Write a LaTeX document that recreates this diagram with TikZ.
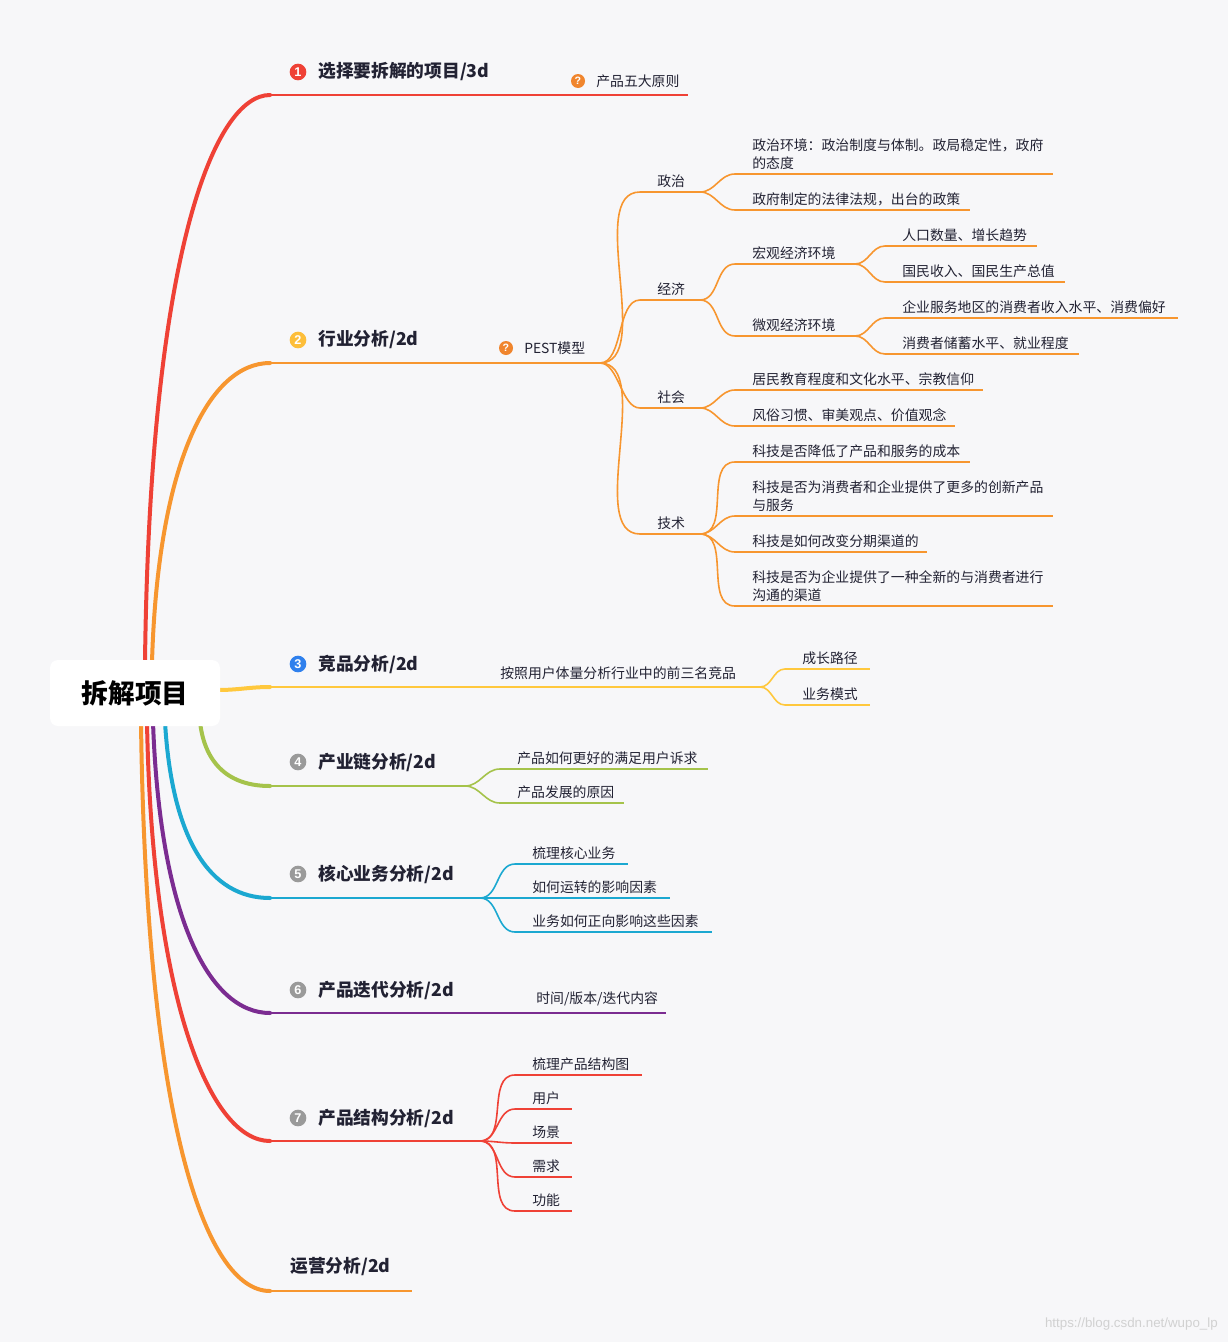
\documentclass[tikz,border=0pt]{standalone}
\usepackage{fontspec}
\setmainfont{Noto Sans CJK SC}
\newfontfamily\lat{Liberation Sans}
\definecolor{bg}{HTML}{F7F7F9}
\definecolor{cR}{HTML}{EF4136}
\definecolor{cO}{HTML}{F7962F}
\definecolor{cY}{HTML}{FFC83D}
\definecolor{cG}{HTML}{A5C34B}
\definecolor{cC}{HTML}{1BA8D1}
\definecolor{cP}{HTML}{7B2C91}
\definecolor{cB}{HTML}{2F80ED}
\definecolor{cQ}{HTML}{F0852D}
\definecolor{cI}{HTML}{9A9A9A}
\definecolor{tx}{HTML}{222233}
\tikzset{
 leaf/.style={anchor=south west,inner sep=0pt,font=\fontsize{10.4}{13.5}\selectfont,text=tx,align=left},
 blab/.style={anchor=west,inner sep=0pt,font=\fontsize{13.3}{16}\selectfont\bfseries,text=tx},
 ic/.style={circle,fill=#1,text=white,inner sep=0pt,minimum size=12.5pt,font=\fontsize{9.5}{9.5}\selectfont\bfseries\lat},
 main/.style={line width=3pt,line cap=round},
 sub/.style={line width=1.2pt},
}
\newcommand\ul[6]{\coordinate (#1s) at (#2,#4);\coordinate (#1e) at (#3,#4);
 \draw[sub,#5] (#1s)--(#1e);
 \node[leaf] (#1) at ($(#1s)+(17,-4)$) {#6};}
\newcommand\cn[3]{\draw[sub,#3] (#1) to[out=0,in=180] (#2);}
\usetikzlibrary{calc}
\begin{document}
\begin{tikzpicture}[x=0.75pt,y=-0.75pt]
\fill[bg] (0,0) rectangle (1228,1342);
\useasboundingbox (0,0) rectangle (1228,1342);
% main branches
\coordinate (r1) at (145,662); \coordinate (r2) at (152,662);
\coordinate (r3) at (218,690); \coordinate (r4) at (200,722);
\coordinate (r5) at (165,722); \coordinate (r6) at (153,722);
\coordinate (r7) at (147,722); \coordinate (r8) at (141,722);
\coordinate (b1) at (270,95); \coordinate (b2) at (270,363);
\coordinate (b3) at (270,687); \coordinate (b4) at (270,786);
\coordinate (b5) at (270,898); \coordinate (b6) at (270,1013);
\coordinate (b7) at (270,1141); \coordinate (b8) at (270,1291);
\draw[main,cR] (r1) .. controls (150,250) and (215,95) .. (b1);
\draw[main,cO] (r2) .. controls (158,460) and (210,363) .. (b2);
\draw[main,cY] (r3) to[out=0,in=180] (b3);
\draw[main,cG] (r4) .. controls (205,765) and (230,786) .. (b4);
\draw[main,cC] (r5) .. controls (172,840) and (210,898) .. (b5);
\draw[main,cP] (r6) .. controls (160,920) and (210,1013) .. (b6);
\draw[main,cR] (r7) .. controls (152,1000) and (210,1141) .. (b7);
\draw[main,cO] (r8) .. controls (146,1120) and (205,1291) .. (b8);
% root
\node[fill=white,rounded corners=6pt,minimum width=170*0.75pt,minimum height=66*0.75pt,font=\fontsize{20}{24}\selectfont\bfseries,text=black] (root) at (135,693) {拆解项目};
% branch 1
\draw[sub,cR] (b1)--(688,95);
\node[ic=cR] (i1) at (298,72) {1};
\node[blab] (l1) at (318,72) {选择要拆解的项目/3d};
\node[ic=cQ,minimum size=10.5pt,font=\fontsize{8}{8}\selectfont\bfseries\lat] (q1) at (578,81) {?};
\node[leaf,anchor=west] (t1) at (596,81) {产品五大原则};
% branch 2
\coordinate (p2) at (600,363);
\draw[sub,cO] (b2)--(p2);
\node[ic={cY!80!cO}] (i2) at (298,340) {2};
\node[blab] (l2) at (318,340) {行业分析/2d};
\node[ic=cQ,minimum size=10.5pt,font=\fontsize{8}{8}\selectfont\bfseries\lat] (q2) at (506,348) {?};
\node[leaf,anchor=west] (t2) at (524,348) {PEST模型};
\ul{zz}{640}{700}{192}{cO}{政治}
\ul{jj}{640}{700}{300}{cO}{经济}
\ul{sh}{640}{700}{408}{cO}{社会}
\ul{js}{640}{700}{534}{cO}{技术}
\foreach \k in {zz,jj,sh,js}{\draw[sub,cO] (p2) to[out=0,in=180,looseness=0.8] (\k s);}
\ul{zz1}{735}{1053}{174}{cO}{政治环境：政治制度与体制。政局稳定性，政府\\的态度}
\ul{zz2}{735}{970}{210}{cO}{政府制定的法律法规，出台的政策}
\cn{zze}{zz1s}{cO}\cn{zze}{zz2s}{cO}
\ul{hg}{735}{855}{264}{cO}{宏观经济环境}
\ul{wg}{735}{855}{336}{cO}{微观经济环境}
\cn{jje}{hgs}{cO}\cn{jje}{wgs}{cO}
\ul{hg1}{885}{1037}{246}{cO}{人口数量、增长趋势}
\ul{hg2}{885}{1065}{282}{cO}{国民收入、国民生产总值}
\cn{hge}{hg1s}{cO}\cn{hge}{hg2s}{cO}
\ul{wg1}{885}{1178}{318}{cO}{企业服务地区的消费者收入水平、消费偏好}
\ul{wg2}{885}{1079}{354}{cO}{消费者储蓄水平、就业程度}
\cn{wge}{wg1s}{cO}\cn{wge}{wg2s}{cO}
\ul{sh1}{735}{983}{390}{cO}{居民教育程度和文化水平、宗教信仰}
\ul{sh2}{735}{955}{426}{cO}{风俗习惯、审美观点、价值观念}
\cn{she}{sh1s}{cO}\cn{she}{sh2s}{cO}
\ul{js1}{735}{970}{462}{cO}{科技是否降低了产品和服务的成本}
\ul{js2}{735}{1053}{516}{cO}{科技是否为消费者和企业提供了更多的创新产品\\与服务}
\ul{js3}{735}{927}{552}{cO}{科技是如何改变分期渠道的}
\ul{js4}{735}{1053}{606}{cO}{科技是否为企业提供了一种全新的与消费者进行\\沟通的渠道}
\foreach \k in {js1,js2,js3,js4}{\draw[sub,cO] (jse) to[out=0,in=180] (\k s);}
% branch 3
\coordinate (p3) at (760,687);
\draw[sub,cY] (b3)--(p3);
\node[ic=cB] (i3) at (298,664) {3};
\node[blab] (l3) at (318,664) {竞品分析/2d};
\node[leaf,anchor=west] (t3) at (500,673) {按照用户体量分析行业中的前三名竞品};
\ul{c1}{785}{870}{669}{cY}{成长路径}
\ul{c2}{785}{870}{705}{cY}{业务模式}
\cn{p3}{c1s}{cY}\cn{p3}{c2s}{cY}
% branch 4
\coordinate (p4) at (465,786);
\draw[sub,cG] (b4)--(p4);
\node[ic=cI] (i4) at (298,762) {4};
\node[blab] (l4) at (318,762) {产业链分析/2d};
\ul{g1}{500}{708}{769}{cG}{产品如何更好的满足用户诉求}
\ul{g2}{500}{624}{803}{cG}{产品发展的原因}
\cn{p4}{g1s}{cG}\cn{p4}{g2s}{cG}
% branch 5
\coordinate (p5) at (480,898);
\draw[sub,cC] (b5)--(p5);
\node[ic=cI] (i5) at (298,874) {5};
\node[blab] (l5) at (318,874) {核心业务分析/2d};
\ul{k1}{515}{628}{864}{cC}{梳理核心业务}
\ul{k2}{515}{670}{898}{cC}{如何运转的影响因素}
\ul{k3}{515}{712}{932}{cC}{业务如何正向影响这些因素}
\cn{p5}{k1s}{cC}\cn{p5}{k2s}{cC}\cn{p5}{k3s}{cC}
% branch 6
\draw[sub,cP] (b6)--(666,1013);
\node[ic=cI] (i6) at (298,990) {6};
\node[blab] (l6) at (318,990) {产品迭代分析/2d};
\node[leaf,anchor=west] (t6) at (536,999) {时间/版本/迭代内容};
% branch 7
\coordinate (p7) at (480,1141);
\draw[sub,cR] (b7)--(p7);
\node[ic=cI] (i7) at (298,1118) {7};
\node[blab] (l7) at (318,1118) {产品结构分析/2d};
\ul{s1}{515}{642}{1075}{cR}{梳理产品结构图}
\ul{s2}{515}{572}{1109}{cR}{用户}
\ul{s3}{515}{572}{1143}{cR}{场景}
\ul{s4}{515}{572}{1177}{cR}{需求}
\ul{s5}{515}{572}{1211}{cR}{功能}
\foreach \k in {s1,s2,s3,s4,s5}{\draw[sub,cR] (p7) to[out=0,in=180] (\k s);}
% branch 8
\draw[sub,cO] (b8)--(412,1291);
\node[blab] (l8) at (290,1267) {运营分析/2d};
\node[anchor=east,inner sep=0pt,font=\fontsize{10}{12}\selectfont\lat,text=black!18] (wm) at (1218,1324) {https://blog.csdn.net/wupo\_lp};
\end{tikzpicture}
\end{document}
